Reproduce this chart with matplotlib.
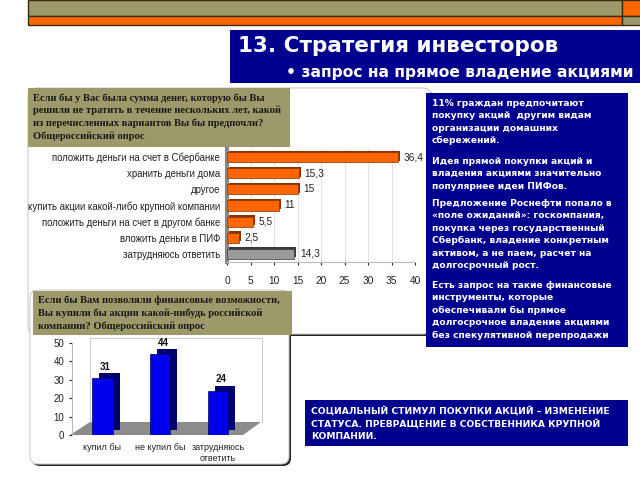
import matplotlib
matplotlib.use('Agg')
import matplotlib.pyplot as plt
from matplotlib.patches import Rectangle, FancyBboxPatch, Polygon
from matplotlib.transforms import offset_copy

plt.rcParams['font.family'] = 'DejaVu Sans'

W, H = 640, 480

# Upper survey: what to do with savings
save_labels = ['положить деньги на счет в Сбербанке', 'хранить деньги дома', 'другое',
               'купить акции какой-либо крупной компании', 'положить деньги на счет в другом банке',
               'вложить деньги в ПИФ', 'затрудняюсь ответить']
save_values = [36.4, 15.3, 15, 11, 5.5, 2.5, 14.3]
save_text = ['36,4', '15,3', '15', '11', '5,5', '2,5', '14,3']

# Lower survey: would you buy shares
buy_labels = ['купил бы', 'не купил бы', 'затрудняюсь\nответить']
buy_values = [31, 44, 24]

NAVY = '#00008E'
OLIVE = '#9C9A6A'
ORANGE = '#FF6600'

fig = plt.figure(figsize=(6.4, 4.8), dpi=100)
bg = fig.add_axes([0, 0, 1, 1])
bg.set_xlim(0, W)
bg.set_ylim(H, 0)
bg.axis('off')


def px(l, t, r, b):
    return [l / W, 1 - b / H, (r - l) / W, (b - t) / H]


# top decorative band
bg.add_patch(Rectangle((28, 0), 594, 16, facecolor=OLIVE, edgecolor='#3a2a10', lw=1))
bg.add_patch(Rectangle((28, 16), 594, 9, facecolor=ORANGE, edgecolor='#3a2a10', lw=1))
bg.add_patch(Rectangle((622, 0), 20, 16, facecolor=ORANGE, edgecolor='#3a2a10', lw=1))
bg.add_patch(Rectangle((622, 16), 20, 9, facecolor=OLIVE, edgecolor='#3a2a10', lw=1))

# title block
bg.add_patch(Rectangle((230, 30), 412, 53, facecolor=NAVY, edgecolor='none'))
bg.text(238, 46, '13. Стратегия инвесторов', color='white', fontsize=15.5,
        fontweight='bold', va='center', ha='left')
bg.text(633, 72, '• запрос на прямое владение акциями', color='white', fontsize=11.2,
        fontweight='bold', va='center', ha='right')

# panels with shadow
def panel(x, y, w, h):
    bg.add_patch(FancyBboxPatch((x + 2, y + 2), w, h, boxstyle='round,pad=0,rounding_size=8',
                                facecolor='#222222', edgecolor='none'))
    bg.add_patch(FancyBboxPatch((x, y), w, h, boxstyle='round,pad=0,rounding_size=8',
                                facecolor='white', edgecolor='#cccccc', lw=0.8))

panel(28, 88, 403, 246)
panel(30, 290, 259, 174)

# question boxes
serif = ['Liberation Serif', 'DejaVu Serif']
bg.add_patch(Rectangle((28, 88), 262, 59, facecolor=OLIVE, edgecolor='none'))
q1 = ['Если бы у Вас была сумма денег, которую бы Вы',
      'решили не тратить в течение нескольких лет, какой',
      'из перечисленных вариантов Вы бы предпочли?',
      'Общероссийский опрос']
for i, line in enumerate(q1):
    bg.text(33, 98 + i * 12.7, line, family=serif, fontsize=7.6, fontweight='bold',
            color='#1a1a1a', va='center')

bg.add_patch(Rectangle((33, 291), 259, 44, facecolor=OLIVE, edgecolor='none'))
q2 = ['Если бы Вам позволяли финансовые возможности,',
      'Вы купили бы акции какой-нибудь российской',
      'компании? Общероссийский опрос']
for i, line in enumerate(q2):
    bg.text(38, 300 + i * 13.3, line, family=serif, fontsize=7.6, fontweight='bold',
            color='#1a1a1a', va='center')

# right text block
bg.add_patch(Rectangle((426, 93), 202, 254, facecolor=NAVY, edgecolor='none'))
paras = [
    (103, ['11% граждан предпочитают', 'покупку акций  другим видам',
           'организации домашних', 'сбережений.']),
    (161, ['Идея прямой покупки акций и', 'владения акциями значительно',
           'популярнее идеи ПИФов.']),
    (203, ['Предложение Роснефти попало в', '«поле ожиданий»: госкомпания,',
           'покупка через государственный', 'Сбербанк, владение конкретным',
           'активом, а не паем, расчет на', 'долгосрочный рост.']),
    (285, ['Есть запрос на такие финансовые', 'инструменты, которые',
           'обеспечивали бы прямое', 'долгосрочное владение акциями',
           'без спекулятивной перепродажи']),
]
for y0, lines in paras:
    for i, line in enumerate(lines):
        bg.text(432, y0 + i * 12.6, line, color='white', fontsize=6.6,
                fontweight='bold', va='center')

# bottom right block
bg.add_patch(Rectangle((305, 400), 323, 46, facecolor=NAVY, edgecolor='none'))
bottom = ['СОЦИАЛЬНЫЙ СТИМУЛ ПОКУПКИ АКЦИЙ – ИЗМЕНЕНИЕ',
          'СТАТУСА. ПРЕВРАЩЕНИЕ В СОБСТВЕННИКА КРУПНОЙ',
          'КОМПАНИИ.']
for i, line in enumerate(bottom):
    bg.text(311, 411 + i * 12.6, line, color='white', fontsize=6.6,
            fontweight='bold', va='center')

# upper bar chart
sans = ['Liberation Sans', 'DejaVu Sans']
ax1 = fig.add_axes(px(227, 149, 415, 262))
ax1.set_facecolor('none')
ypos = list(range(len(save_values)))
colors = [ORANGE] * (len(save_values) - 1) + ['#9a9a9a']
dark = ['#8a3300'] * (len(save_values) - 1) + ['#3a3a3a']
shadow = offset_copy(ax1.transData, fig=fig, x=2, y=1.5, units='dots')
ax1.barh(ypos, save_values, height=0.62, color=dark, transform=shadow, zorder=2)
ax1.barh(ypos, save_values, height=0.62, color=colors, edgecolor=dark, lw=0.5, zorder=3)
for y, v, t in zip(ypos, save_values, save_text):
    ax1.text(v + 1.2, y, t, fontsize=7.3, family=sans, color='#222222', va='center')
ax1.set_xlim(0, 40)
ax1.set_ylim(6.5, -0.5)
ax1.set_xticks(range(0, 41, 5))
ax1.set_yticks(ypos)
ax1.set_yticklabels(save_labels, family=sans, fontsize=6.95, color='#222222')
ax1.tick_params(axis='x', labelsize=7.3, colors='#222222', length=2, pad=8)
ax1.tick_params(axis='y', length=0, pad=5)
for lab in ax1.get_xticklabels():
    lab.set_family(sans)
ax1.grid(axis='x', color='#dddddd', lw=0.6, zorder=0)
ax1.set_axisbelow(True)
for s in ['top', 'right']:
    ax1.spines[s].set_visible(False)
ax1.spines['left'].set_color('#888888')
ax1.spines['left'].set_linewidth(3)
ax1.spines['bottom'].set_color('#bbbbbb')

# lower bar chart floor and wall (decor)
bg.add_patch(Polygon([(70, 435), (243, 435), (261, 422), (90, 422)],
                     closed=True, facecolor='#8c8c8c', edgecolor='none'))
bg.plot([90, 90, 262, 262], [422, 338, 338, 422], color='#cccccc', lw=0.7)

ax2 = fig.add_axes(px(72, 343, 262, 435))
ax2.set_facecolor('none')
xpos = list(range(len(buy_values)))
shadow2 = offset_copy(ax2.transData, fig=fig, x=7, y=5, units='dots')
ax2.bar(xpos, buy_values, width=0.36, color='#000070', transform=shadow2, zorder=2)
ax2.bar(xpos, buy_values, width=0.36, color='#0000EE', edgecolor='#000060', lw=0.5, zorder=3)
for x, v in zip(xpos, buy_values):
    ax2.text(x + 0.05, v + 3.5, str(v), ha='center', va='bottom', fontsize=7,
             fontweight='bold', family=sans, color='#111111')
ax2.set_xlim(-0.52, 2.76)
ax2.set_ylim(0, 50)
ax2.set_yticks(range(0, 51, 10))
ax2.set_xticks(xpos)
ax2.set_xticklabels(buy_labels, family=sans, fontsize=6.5, color='#222222')
for lab in ax2.get_yticklabels():
    lab.set_family(sans)
ax2.tick_params(axis='y', labelsize=7, colors='#222222', length=2)
ax2.tick_params(axis='x', length=0, pad=6)
for s in ['top', 'right', 'bottom']:
    ax2.spines[s].set_visible(False)
ax2.spines['left'].set_color('#bbbbbb')

fig.savefig('out.png', dpi=100, facecolor='white')
